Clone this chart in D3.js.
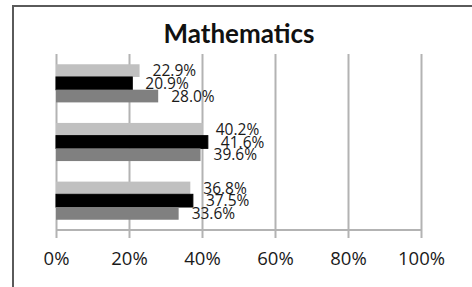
<!DOCTYPE html>
<html>
<head>
<meta charset="utf-8">
<script src="https://cdn.jsdelivr.net/npm/d3@7"></script>
<style>
html,body{margin:0;padding:0;background:#fff;}
svg{display:block;}
</style>
</head>
<body>
<div id="chart"></div>
<script>
const title = "Mathematics";
const categories = ["Group 1", "Group 2", "Group 3"];
const seriesNames = ["Series A", "Series B", "Series C"];
const seriesA = [22.9, 40.2, 36.8];
const seriesB = [20.9, 41.6, 37.5];
const seriesC = [28.0, 39.6, 33.6];
const tickValues = [0, 20, 40, 60, 80, 100];
const tickLabels = ["0%", "20%", "40%", "60%", "80%", "100%"];

const seriesValues = [seriesA, seriesB, seriesC];
const colors = ["#c0c0c0", "#000000", "#808080"];

const W = 472, H = 287;
const svg = d3.select("#chart").append("svg").attr("width", W).attr("height", H);

// frame
svg.append("rect").attr("x", 13).attr("y", 6).attr("width", W + 20).attr("height", H + 20)
  .attr("fill", "none").attr("stroke", "#5a5a5a").attr("stroke-width", 2);

svg.append("text").attr("x", 239).attr("y", 43).attr("text-anchor", "middle")
  .attr("font-family", "Lato, 'Open Sans', sans-serif").attr("font-weight", "bold")
  .attr("font-size", 26).attr("fill", "#111").text(title);

const x = d3.scaleLinear().domain([0, 100]).range([56, 421]);
const y = d3.scaleBand().domain(categories).range([54, 230]).paddingInner(0.35).paddingOuter(0.175);
const ys = d3.scaleBand().domain(d3.range(seriesNames.length)).range([0, y.bandwidth()]);

const rows = [];
categories.forEach((c, ci) => seriesValues.forEach((vals, si) => rows.push({c, si, v: vals[ci]})));

// gridlines + axis
const axis = d3.axisBottom(x).tickValues(tickValues).tickFormat((d, i) => tickLabels[i])
  .tickSize(8).tickPadding(14);
const gAxis = svg.append("g").attr("transform", "translate(0,230)").call(axis);
gAxis.select(".domain").attr("stroke", "#b3b3b3").attr("stroke-width", 2).attr("d", `M${x(0)},0H${x(100)}`);
gAxis.selectAll(".tick line").attr("stroke", "#b3b3b3").attr("stroke-width", 2).attr("y1", -176);
gAxis.selectAll(".tick text").attr("font-family", "'Open Sans', Lato, sans-serif")
  .attr("font-size", 18.5).attr("fill", "#1a1a1a");

// bars
svg.append("g").selectAll("rect").data(rows).join("rect")
  .attr("x", x(0)).attr("y", d => y(d.c) + ys(d.si))
  .attr("width", d => x(d.v) - x(0)).attr("height", ys.bandwidth())
  .attr("fill", d => colors[d.si])
  .attr("stroke", d => d.si === 1 ? "#000" : "none").attr("stroke-width", 1);

// labels
svg.append("g").selectAll("text").data(rows).join("text")
  .attr("x", d => x(d.v) + 13).attr("y", d => y(d.c) + ys(d.si) + ys.bandwidth() / 2)
  .attr("dy", "0.36em")
  .attr("font-family", "'Open Sans', Lato, sans-serif").attr("font-size", 15.5).attr("fill", "#1a1a1a")
  .text(d => d.v.toFixed(1) + "%");
</script>
</body>
</html>
